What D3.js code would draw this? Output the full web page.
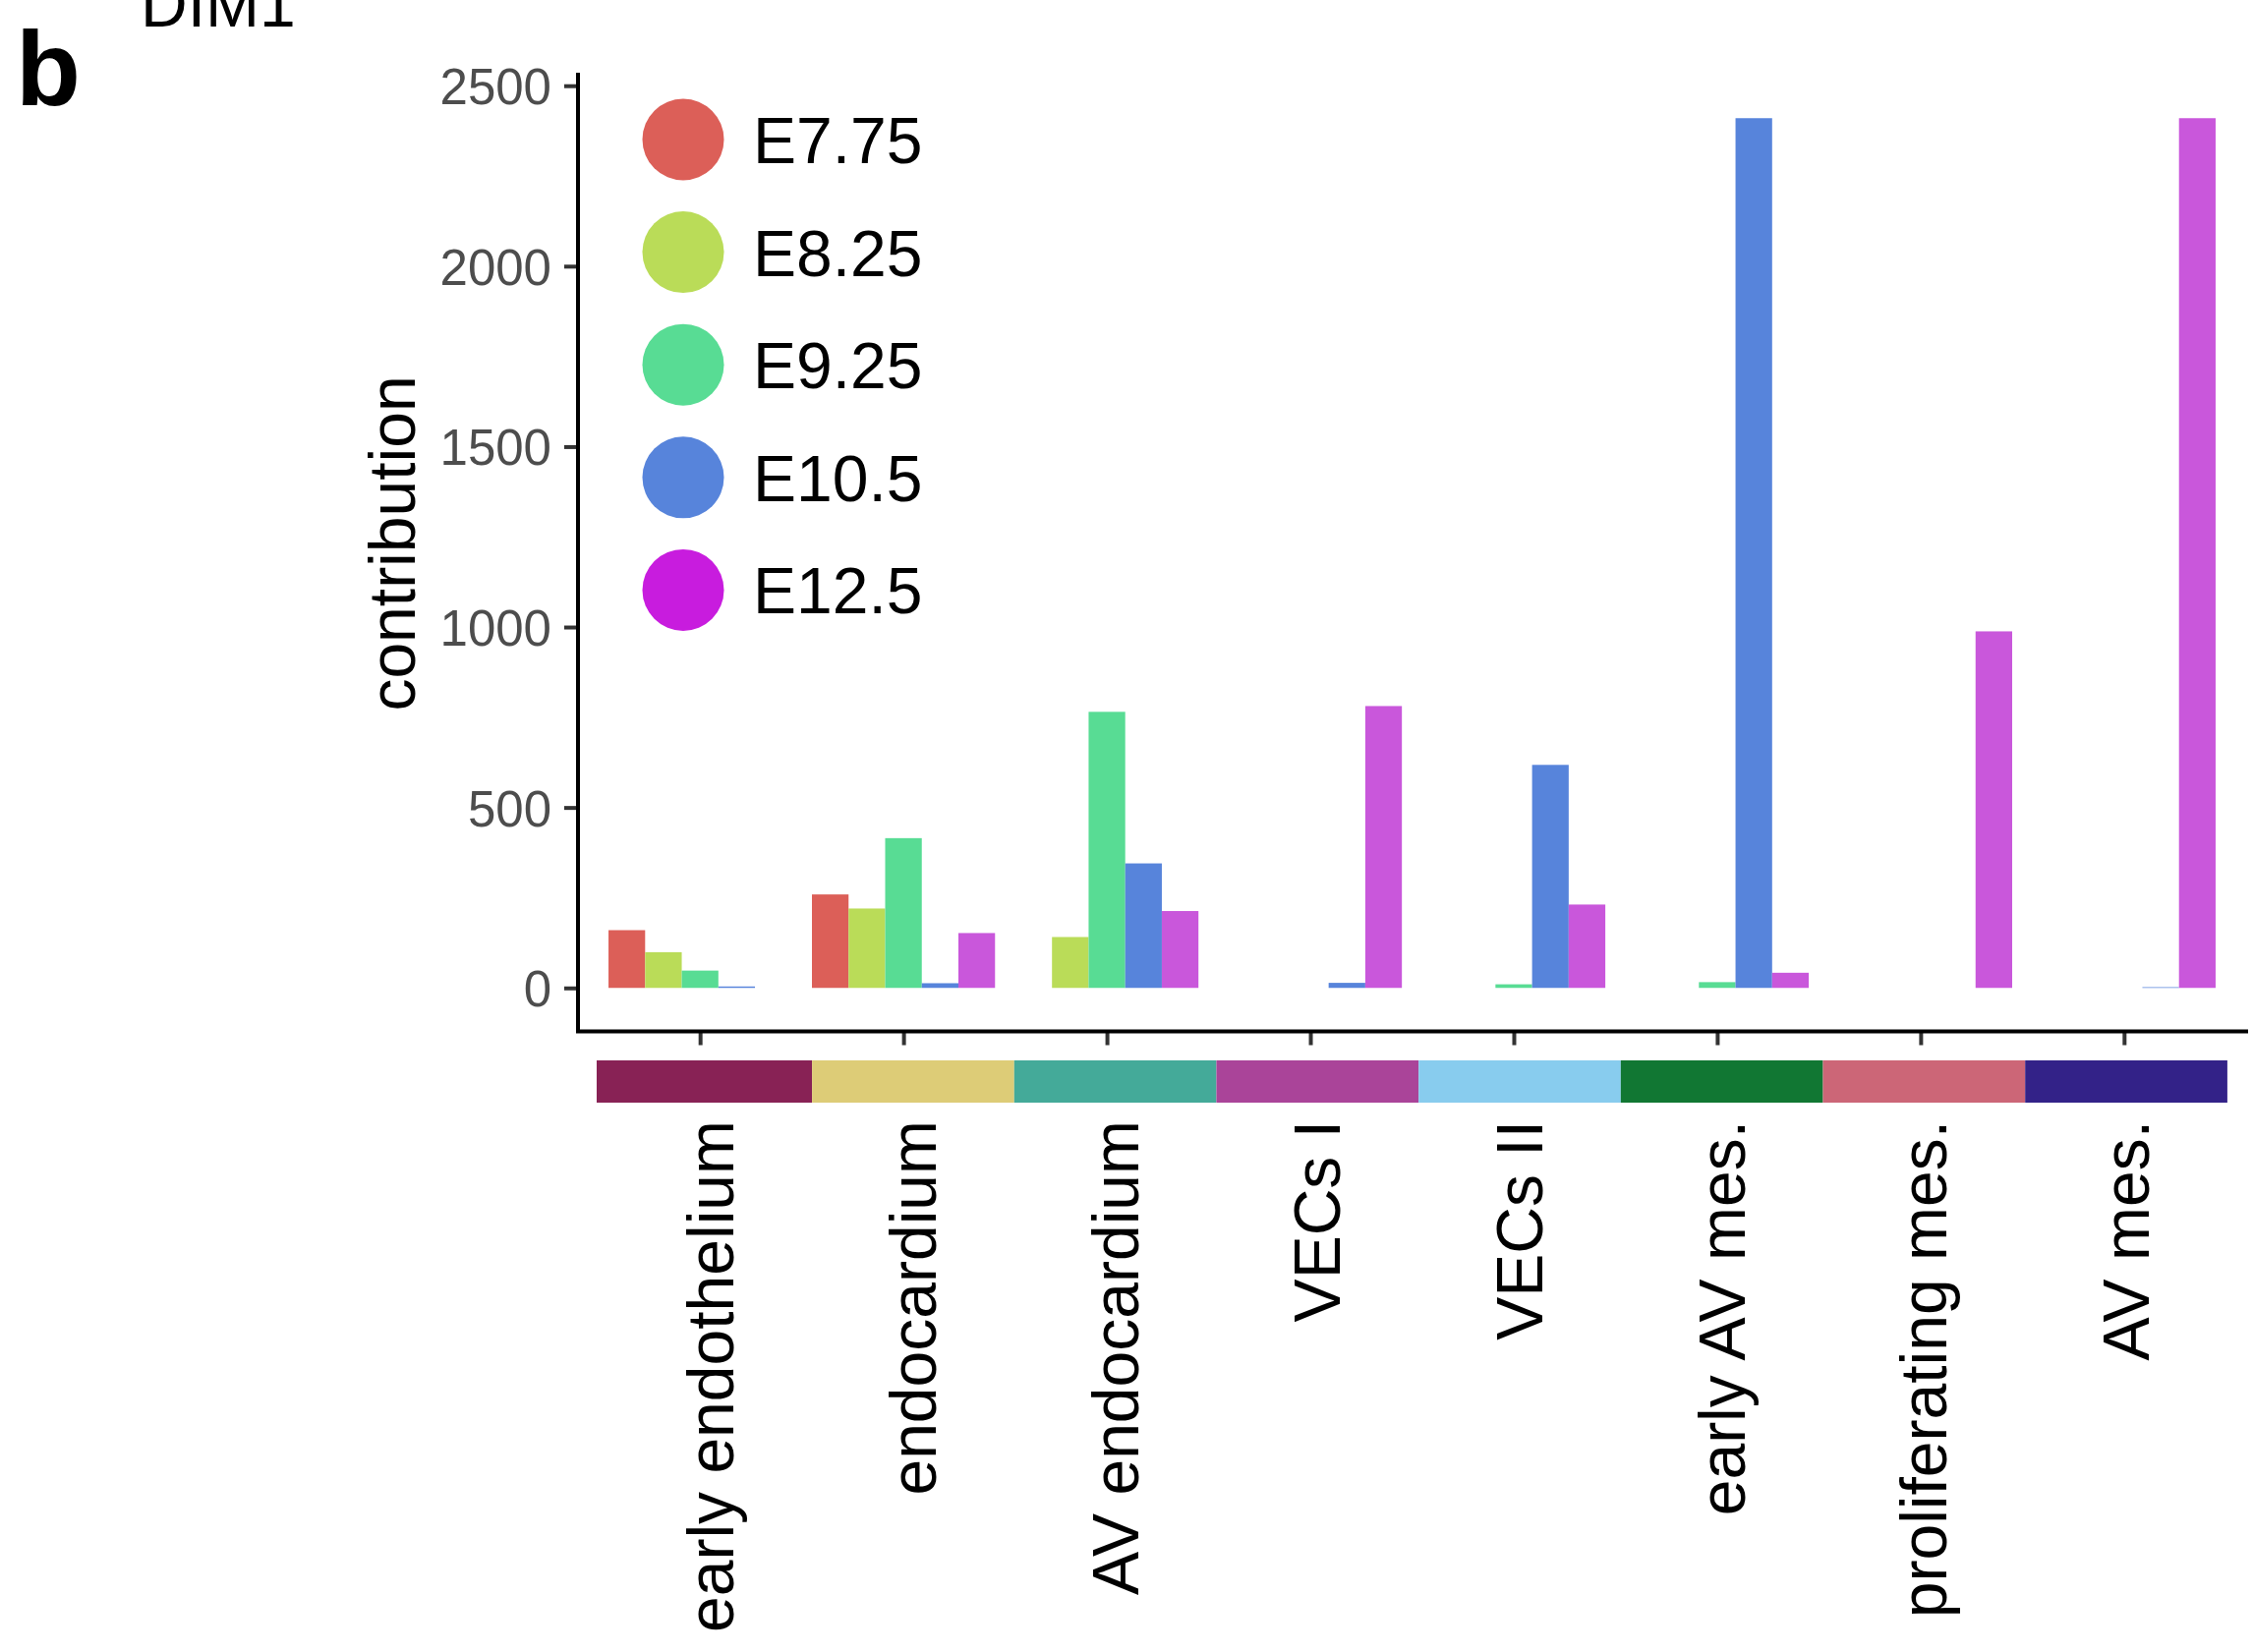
<!DOCTYPE html>
<html>
<head>
<meta charset="utf-8">
<script src="https://cdn.jsdelivr.net/npm/d3@7"></script>
<style>
  html, body { margin: 0; padding: 0; background: #fff; }
  svg { display: block; }
  text { font-family: "Liberation Sans", Arial, Helvetica, sans-serif; }
</style>
</head>
<body>
<svg id="chart" width="2292" height="1681"></svg>
<script>
// ---------- data ----------
const categories = ["early endothelium", "endocardium", "AV endocardium", "VECs I", "VECs II", "early AV mes.", "proliferating mes.", "AV mes."];
const stages = ["E7.75", "E8.25", "E9.25", "E10.5", "E12.5"];
const valuesE775 = [160, 259, 0, 0, 0, 0, 0, 0];
const valuesE825 = [99, 220, 141, 0, 0, 0, 0, 0];
const valuesE925 = [48, 415, 765, 0, 10, 16, 0, 0];
const valuesE105 = [4, 13, 345, 14, 618, 2410, 0, 2];
const valuesE125 = [0, 152, 213, 781, 231, 42, 988, 2410];
const barColors = ["#DC5F58", "#BADC58", "#58DC94", "#5784DB", "#C957DB"];
const legendColors = ["#DC5F58", "#BADC58", "#58DC94", "#5784DB", "#C81CDE"];
const cellTypeColors = ["#882255", "#DDCC77", "#44AA99", "#AA4499", "#88CCEE", "#117733", "#CC6677", "#332288"];
const yTicks = [0, 500, 1000, 1500, 2000, 2500];
const yTitle = "contribution";
const panelTitle = "DIM1";
const panelTag = "b";

(function () {
const seriesValues = [valuesE775, valuesE825, valuesE925, valuesE105, valuesE125];
const rows = [];
categories.forEach((c, i) => stages.forEach((s, j) => rows.push({cat: c, stage: s, value: seriesValues[j][i]})));

// ---------- layout ----------
const svg = d3.select("#chart");
const pLeft = 588, pRight = 2285, pTop = 76, pBottom = 1049.5;
const yMax = d3.max(rows, d => d.value);

const x = d3.scalePoint().domain(categories).range([pLeft, pRight]).padding(0.6);
const step = x.step();
const xSub = d3.scaleBand().domain(stages).range([-0.45 * step, 0.45 * step]);
const y = d3.scaleLinear().domain([-0.05 * yMax, 1.05 * yMax]).range([pBottom, pTop]);
const color = d3.scaleOrdinal().domain(stages).range(barColors);

// bars
svg.append("g").selectAll("rect").data(rows).join("rect")
  .attr("x", d => x(d.cat) + xSub(d.stage))
  .attr("width", xSub.bandwidth())
  .attr("y", d => y(Math.max(d.value, 0)))
  .attr("height", d => Math.abs(y(0) - y(d.value)))
  .attr("fill", d => color(d.stage));

// y axis
const yAxis = svg.append("g").attr("transform", `translate(${pLeft},0)`)
  .call(d3.axisLeft(y).tickValues(yTicks).tickSize(14).tickPadding(13).tickFormat(d3.format("d")));
yAxis.select(".domain").remove();
yAxis.selectAll(".tick line").attr("stroke", "#333333").attr("stroke-width", 4);
yAxis.selectAll(".tick text").attr("fill", "#4D4D4D").style("font-size", "51px").attr("dy", "0.36em");

// x axis
const xAxis = svg.append("g").attr("transform", `translate(0,${pBottom})`)
  .call(d3.axisBottom(x).tickSize(14).tickFormat(""));
xAxis.select(".domain").remove();
xAxis.selectAll(".tick line").attr("stroke", "#333333").attr("stroke-width", 4);

// axis lines
svg.append("path")
  .attr("d", `M${pLeft},${pTop} L${pLeft},${pBottom} L${pRight},${pBottom}`)
  .attr("fill", "none").attr("stroke", "#000").attr("stroke-width", 4)
  .attr("stroke-linejoin", "miter").attr("stroke-linecap", "square");

// y title
svg.append("text")
  .attr("transform", `translate(422,553) rotate(-90)`)
  .attr("text-anchor", "middle")
  .style("font-size", "66px").attr("fill", "#000")
  .text(yTitle);

// legend
const legend = svg.append("g");
stages.forEach((s, i) => {
  const cy = 142 + i * 114.6;
  legend.append("circle").attr("cx", 695).attr("cy", cy).attr("r", 41.5).attr("fill", legendColors[i]);
  legend.append("text").attr("x", 766).attr("y", cy + 24)
    .style("font-size", "66px").attr("fill", "#000").text(s);
});

// colour bar of cell types
const cb = d3.scaleBand().domain(categories).range([620.4, 2265.9]);
const cbTop = 1079, cbBottom = 1122;
svg.append("g").selectAll("rect").data(categories).join("rect")
  .attr("x", (d, i) => i === 0 ? 607 : cb(d))
  .attr("width", (d, i) => i === 0 ? cb.bandwidth() + (cb(d) - 607) : cb.bandwidth())
  .attr("y", cbTop).attr("height", cbBottom - cbTop)
  .attr("fill", (d, i) => cellTypeColors[i]);

// category labels
svg.append("g").selectAll("text").data(categories).join("text")
  .attr("transform", d => `translate(${cb(d) + cb.bandwidth() / 2 + 23},1140) rotate(-90)`)
  .attr("text-anchor", "end")
  .style("font-size", "66px").attr("fill", "#000")
  .text(d => d);

// titles
svg.append("text").attr("x", 143).attr("y", 27).style("font-size", "66px").attr("fill", "#000").text(panelTitle);
svg.append("text").attr("x", 16).attr("y", 107).style("font-size", "108px").style("font-weight", "bold").attr("fill", "#000").text(panelTag);
})();
</script>
</body>
</html>
